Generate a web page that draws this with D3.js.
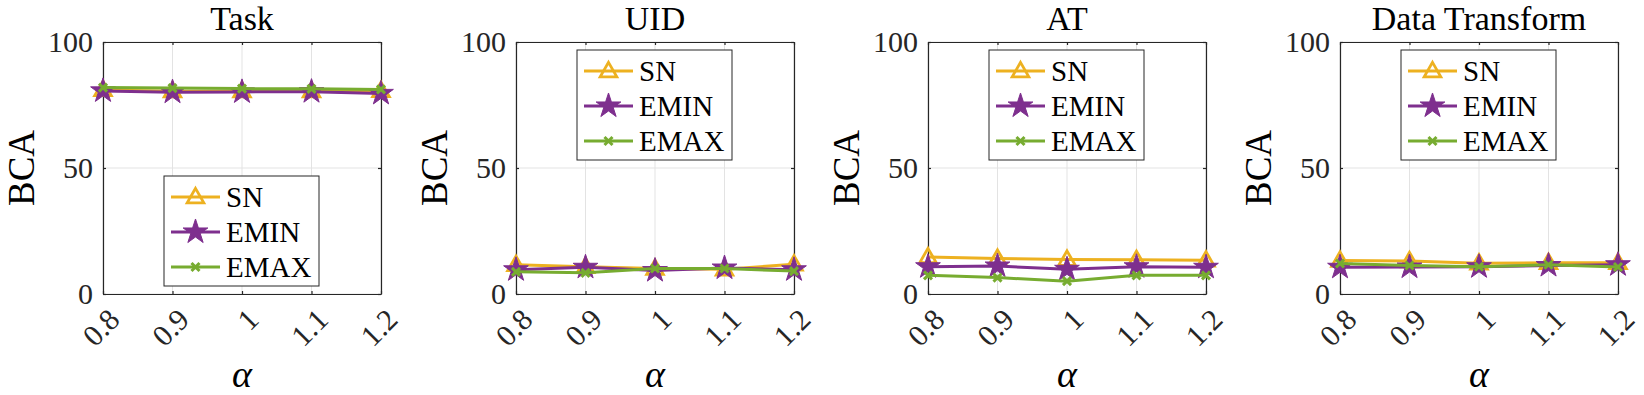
<!DOCTYPE html>
<html>
<head>
<meta charset="utf-8">
<script src="https://cdn.jsdelivr.net/npm/d3@7"></script>
<style>
  body { margin: 0; background: #fff; }
  svg text { font-family: "Liberation Serif", "Times New Roman", serif; }
</style>
</head>
<body>
<svg width="1644" height="395"></svg>
<script>
const alphas = [0.8, 0.9, 1, 1.1, 1.2];
const alphaLabels = ["0.8", "0.9", "1", "1.1", "1.2"];
const yTicks = [0, 50, 100];
const panels = ["Task", "UID", "AT", "Data Transform"];
const seriesNames = ["SN", "EMIN", "EMAX"];

// values per panel
const snVals = [
  [81.0, 80.5, 80.5, 80.5, 80.6],
  [11.6, 10.8, 10.1, 9.8, 11.8],
  [14.7, 14.1, 13.7, 13.6, 13.4],
  [13.3, 13.1, 12.2, 12.4, 12.4]
];
const eminVals = [
  [80.6, 80.1, 80.2, 80.3, 79.6],
  [9.6, 10.6, 9.3, 10.3, 9.6],
  [10.8, 11.1, 9.8, 10.8, 10.6],
  [10.6, 10.7, 10.8, 11.3, 11.6]
];
const emaxVals = [
  [81.9, 81.7, 81.5, 81.4, 81.2],
  [8.8, 8.4, 10.1, 10.1, 9.1],
  [7.4, 6.5, 5.1, 7.4, 7.4],
  [12.1, 11.3, 10.8, 11.6, 10.7]
];

const colors = { SN: "#EDB120", EMIN: "#7E2F8E", EMAX: "#77AC30" };
const axisColor = "#262626";
const serif = "Liberation Serif";

const svg = d3.select("svg");
const lefts = [103, 516, 928, 1340];
const plotTop = 42, w = 278, h = 252;

const star = d3.symbol().type(d3.symbolStar).size(190);
const tri = d3.symbol().type(d3.symbolTriangle).size(120);

function drawMarker(g, name, x, y) {
  if (name === "SN") {
    g.append("path").attr("d", tri()).attr("transform", `translate(${x},${y + 1})`)
      .attr("fill", "none").attr("stroke", colors.SN).attr("stroke-width", 2.8);
  } else if (name === "EMIN") {
    g.append("path").attr("d", star()).attr("transform", `translate(${x},${y})`)
      .attr("fill", colors.EMIN).attr("stroke", colors.EMIN).attr("stroke-width", 1);
  } else {
    const s = 4;
    g.append("path").attr("d", `M${x - s},${y - s}L${x + s},${y + s}M${x - s},${y + s}L${x + s},${y - s}`)
      .attr("stroke", colors.EMAX).attr("stroke-width", 3).attr("fill", "none");
  }
}

panels.forEach((title, pi) => {
  const g = svg.append("g").attr("transform", `translate(${lefts[pi]},${plotTop})`);
  const x = d3.scaleLinear().domain([0.8, 1.2]).range([0, w]);
  const y = d3.scaleLinear().domain([0, 100]).range([h, 0]);

  // grid
  g.append("g").selectAll("line").data(alphas).join("line")
    .attr("x1", d => x(d)).attr("x2", d => x(d)).attr("y1", 0).attr("y2", h)
    .attr("stroke", "#e3e3e3").attr("stroke-width", 1);
  g.append("g").selectAll("line").data(yTicks).join("line")
    .attr("x1", 0).attr("x2", w).attr("y1", d => y(d)).attr("y2", d => y(d))
    .attr("stroke", "#e3e3e3").attr("stroke-width", 1);

  // axes
  const xa = g.append("g").attr("transform", `translate(0,${h})`)
    .call(d3.axisBottom(x).tickValues(alphas).tickSizeInner(-3).tickSizeOuter(0).tickFormat(""));
  const xt = g.append("g").call(d3.axisTop(x).tickValues(alphas).tickSizeInner(-3).tickSizeOuter(0).tickFormat(""));
  const ya = g.append("g").call(d3.axisLeft(y).tickValues(yTicks).tickSizeInner(-3).tickSizeOuter(0).tickPadding(10)
    .tickFormat(d3.format("d")));
  const yr = g.append("g").attr("transform", `translate(${w},0)`)
    .call(d3.axisRight(y).tickValues(yTicks).tickSizeInner(-3).tickSizeOuter(0).tickFormat(""));
  [xa, xt, ya, yr].forEach(a => {
    a.attr("font-family", serif);
    a.selectAll("path,line").attr("stroke", axisColor).attr("stroke-width", 1.2);
  });
  ya.attr("font-size", 30);
  ya.selectAll("text").attr("fill", axisColor);

  // rotated x tick labels
  g.append("g").selectAll("text").data(alphas).join("text")
    .attr("transform", (d, i) => `translate(${x(d) + 11},${h + 20}) rotate(-45)`)
    .attr("text-anchor", "end").attr("dominant-baseline", "central")
    .attr("font-family", serif).attr("font-size", 30).attr("fill", axisColor)
    .text((d, i) => alphaLabels[i]);

  // title & labels
  g.append("text").attr("x", w / 2).attr("y", -12).attr("text-anchor", "middle")
    .attr("font-family", serif).attr("font-size", 34).attr("fill", "#000").text(title);
  g.append("text").attr("transform", `translate(-69,${h / 2}) rotate(-90)`)
    .attr("text-anchor", "middle").attr("font-family", serif).attr("font-size", 37)
    .attr("fill", "#000").text("BCA");
  g.append("text").attr("x", w / 2).attr("y", h + 93).attr("text-anchor", "middle")
    .attr("font-family", serif).attr("font-size", 38).attr("font-style", "italic")
    .attr("fill", "#000").text("α");

  // series
  const allVals = { SN: snVals[pi], EMIN: eminVals[pi], EMAX: emaxVals[pi] };
  const line = d3.line().x((d, i) => x(alphas[i])).y(d => y(d));
  seriesNames.forEach(name => {
    const sg = g.append("g");
    sg.append("path").datum(allVals[name]).attr("d", line)
      .attr("fill", "none").attr("stroke", colors[name]).attr("stroke-width", 3);
    allVals[name].forEach((v, i) => drawMarker(sg, name, x(alphas[i]), y(v)));
  });

  // legend
  const ly = pi === 0 ? 134 : 8;
  const lg = g.append("g").attr("transform", `translate(61,${ly})`);
  lg.append("rect").attr("width", 155).attr("height", 110)
    .attr("fill", "#fff").attr("stroke", axisColor).attr("stroke-width", 1);
  seriesNames.forEach((name, i) => {
    const cy = 21 + i * 35;
    lg.append("line").attr("x1", 7).attr("x2", 56).attr("y1", cy).attr("y2", cy)
      .attr("stroke", colors[name]).attr("stroke-width", 3);
    drawMarker(lg, name, 31.5, cy);
    lg.append("text").attr("x", 62).attr("y", cy).attr("dominant-baseline", "central")
      .attr("font-family", serif).attr("font-size", 29).attr("fill", "#000").text(name);
  });
});
</script>
</body>
</html>
